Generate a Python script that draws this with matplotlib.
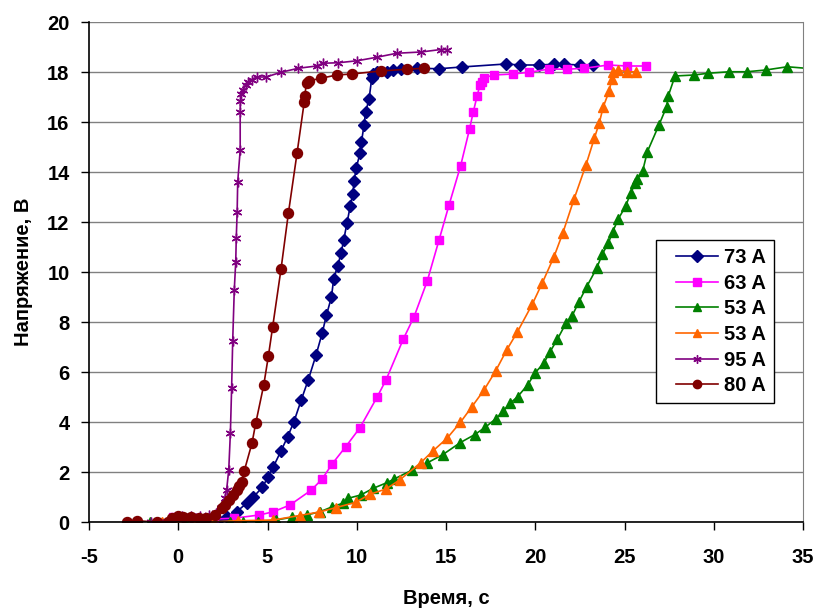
import matplotlib
matplotlib.use("Agg")
import matplotlib.pyplot as plt
from matplotlib.legend_handler import HandlerLine2D

plt.rcParams['font.family'] = ['Liberation Sans', 'DejaVu Sans']
plt.rcParams['font.weight'] = 'bold'
plt.rcParams['axes.unicode_minus'] = False

# ---- data (time, s ; voltage, V) ----
t73 = [1.0, 2.2, 2.71, 3.27, 3.83, 4.2, 4.71, 5.04, 5.33, 5.76, 6.13, 6.48, 6.89, 7.29, 7.72, 8.07, 8.3, 8.58,
       8.71, 8.93, 9.12, 9.27, 9.45, 9.64, 9.77, 9.86, 9.96, 10.2, 10.26, 10.41, 10.5, 10.69, 10.84, 10.93,
       11.12, 11.68, 12.05, 12.46, 13.36, 14.6, 15.88, 18.34, 19.15, 20.23, 21.07, 21.63, 22.5, 23.25]
u73 = [0.05, 0.1, 0.21, 0.41, 0.75, 0.99, 1.39, 1.81, 2.21, 2.85, 3.41, 4.01, 4.88, 5.7, 6.68, 7.57, 8.27, 8.99,
       9.73, 10.24, 10.75, 11.28, 11.95, 12.65, 13.11, 13.65, 14.15, 14.78, 15.19, 15.88, 16.41, 16.92, 17.75, 17.92,
       18.01, 17.99, 18.08, 18.11, 18.15, 18.13, 18.2, 18.32, 18.28, 18.28, 18.31, 18.31, 18.28, 18.28]

t63 = [-0.3, 1.0, 2.0, 3.1, 4.54, 5.33, 6.26, 7.46, 8.05, 8.63, 9.39, 10.18, 11.15, 11.64, 12.61, 13.21, 13.95,
       14.61, 15.17, 15.82, 16.32, 16.53, 16.75, 16.9, 17.0, 17.13, 17.69, 18.74, 19.67, 20.79, 21.76, 22.75,
       24.1, 25.12, 26.2]
u63 = [0.2, 0.15, 0.12, 0.15, 0.28, 0.41, 0.68, 1.28, 1.71, 2.33, 3.02, 3.77, 5.01, 5.68, 7.32, 8.21, 9.64,
       11.28, 12.68, 14.25, 15.72, 16.41, 17.06, 17.48, 17.61, 17.77, 17.88, 17.92, 17.99, 18.12, 18.11, 18.15,
       18.28, 18.24, 18.24]

t53g = [-1.58, 0.38, 1.41, 2.9, 3.61, 4.48, 5.48, 6.36, 7.2, 7.94, 8.6, 9.21, 9.53, 10.22, 10.93, 11.68, 12.1,
        13.08, 13.91, 14.83, 15.81, 16.62, 17.2, 17.79, 18.21, 18.59, 19.01, 19.57, 20.0, 20.49, 20.83, 21.24,
        21.72, 22.06, 22.45, 22.88, 23.44, 23.76, 24.09, 24.34, 24.65, 25.07, 25.35, 25.61, 25.72, 26.02, 26.28,
        26.93, 27.36, 27.45, 27.83, 28.89, 29.7, 30.87, 31.85, 32.91, 34.12, 36.0]
u53g = [0, 0, 0, 0.01, 0, 0.01, 0.08, 0.19, 0.28, 0.41, 0.6, 0.75, 0.95, 1.08, 1.35, 1.57, 1.72,
        2.07, 2.35, 2.7, 3.18, 3.5, 3.79, 4.13, 4.44, 4.75, 5.01, 5.48, 5.97, 6.37, 6.81, 7.31,
        7.95, 8.24, 8.81, 9.41, 10.15, 10.72, 11.15, 11.61, 12.12, 12.64, 13.17, 13.55, 13.71, 14.05, 14.81,
        15.88, 16.61, 17.04, 17.84, 17.88, 17.95, 18.01, 18.01, 18.08, 18.21, 18.1]

t53o = [-0.93, -0.09, 0.94, 1.96, 3.36, 5.33, 6.8, 7.9, 8.86, 9.95, 10.74, 11.64, 12.4, 13.58, 14.25, 15.06,
        15.81, 16.46, 17.13, 17.78, 18.4, 18.99, 19.84, 20.4, 21.05, 21.54, 22.17, 22.84, 23.31, 23.59, 23.81,
        24.15, 24.28, 24.37, 24.62, 25.12, 25.64]
u53o = [0, 0, 0.01, 0.01, 0.05, 0.08, 0.26, 0.4, 0.58, 0.79, 1.11, 1.32, 1.68, 2.37, 2.83, 3.35,
        3.99, 4.62, 5.28, 6.04, 6.88, 7.59, 8.72, 9.57, 10.61, 11.55, 12.91, 14.28, 15.35, 15.97, 16.61,
        17.25, 17.71, 18.01, 18.08, 18.01, 18.01]

t95 = [-1.5, -1.2, -0.3, 0.2, 0.7, 1.2, 1.7, 2.1, 2.4, 2.6, 2.71, 2.83, 2.92, 2.99, 3.05, 3.14, 3.22, 3.25,
       3.30, 3.33, 3.47, 3.47, 3.48, 3.53, 3.64, 3.78, 3.92, 4.11, 4.39, 4.92, 5.76, 6.73, 7.75, 8.09, 8.97,
       10.03, 11.12, 12.24, 13.6, 14.72, 15.04]
u95 = [0.0, 0.02, 0.15, 0.25, 0.25, 0.25, 0.3, 0.35, 0.55, 0.95, 1.28, 2.1, 3.55, 5.36, 7.24, 9.3, 10.4, 11.35,
       12.4, 13.6, 14.87, 16.4, 16.84, 17.1, 17.28, 17.48, 17.6, 17.7, 17.8, 17.8, 17.99, 18.15, 18.24, 18.35, 18.37,
       18.45, 18.59, 18.75, 18.8, 18.9, 18.9]

t80 = [-2.89, -2.33, -1.17, -0.56, -0.37, 0.0, 0.24, 0.7, 1.18, 1.55, 2.06, 2.43, 2.62, 2.86, 3.08, 3.27, 3.42,
       3.55, 3.70, 4.13, 4.34, 4.79, 5.05, 5.29, 5.76, 6.17, 6.66, 7.06, 7.08, 7.19, 7.34, 8.0, 8.88, 9.72,
       11.34, 12.8, 13.77]
u80 = [0.01, 0.05, 0.0, 0.01, 0.15, 0.24, 0.2, 0.19, 0.15, 0.15, 0.28, 0.55, 0.68, 0.88, 1.08, 1.28, 1.44,
       1.61, 2.05, 3.15, 3.95, 5.48, 6.64, 7.81, 10.13, 12.35, 14.78, 16.81, 17.05, 17.55, 17.65, 17.75, 17.88, 17.92,
       18.04, 18.11, 18.15]

labels = ['73 A', '63 A', '53 A', '53 A', '95 A', '80 A']
xticks = [-5, 0, 5, 10, 15, 20, 25, 30, 35]
yticks = [0, 2, 4, 6, 8, 10, 12, 14, 16, 18, 20]

fig = plt.figure(figsize=(8.16, 6.09), dpi=100)
ax = fig.add_axes([89/816, 1-522/609, 714/816, 500/609])

series = [
    (t73, u73, '#000080', 'D', 6.3),
    (t63, u63, '#FF00FF', 's', 6.3),
    (t53g, u53g, '#008000', '^', 7.8),
    (t53o, u53o, '#FF6600', '^', 7.8),
    (t95, u95, '#800080', (6, 2, 0), 7.0),
    (t80, u80, '#800000', 'o', 7.2),
]
for (t, u, c, m, ms), lab in zip(series, labels):
    ax.plot(t, u, color=c, lw=1.2, marker=m, ms=ms, mfc=c, mec=c, mew=1.0, label=lab)

ax.set_xlim(-5, 35)
ax.set_ylim(0, 20)
ax.set_xticks(xticks)
ax.set_yticks(yticks)
ax.yaxis.grid(True, color='#808080', lw=1.0)
ax.set_axisbelow(True)
ax.spines['top'].set_visible(False)
ax.spines['right'].set_color('#808080')
ax.spines['left'].set_color('black')
ax.spines['bottom'].set_color('black')
ax.spines['left'].set_linewidth(1.2)
ax.spines['bottom'].set_linewidth(1.2)
ax.tick_params(axis='both', direction='out', length=6, width=1.0, labelsize=14.5, colors='black')
for lbl in ax.get_xticklabels() + ax.get_yticklabels():
    lbl.set_fontweight('bold')
ax.tick_params(axis='x', pad=13)
ax.tick_params(axis='y', pad=8)

ax.set_xlabel('Время, с', fontsize=14.5, fontweight='bold')
ax.set_ylabel('Напряжение, В', fontsize=14.5, fontweight='bold')
ax.xaxis.set_label_coords(0.5, -0.134)
ax.yaxis.set_label_coords(-0.078, 0.5)

leg = ax.legend(loc='upper left', bbox_to_anchor=(0.794, 0.564), borderaxespad=0,
                fancybox=False, edgecolor='black', framealpha=1,
                handlelength=2.7, labelspacing=0.33, borderpad=0.4, handletextpad=0.3,
                prop={'weight': 'bold', 'size': 14.5},
                handler_map={matplotlib.lines.Line2D: HandlerLine2D(xpad=0.62)})
leg.get_frame().set_linewidth(1.0)
for h in leg.legend_handles:
    h.set_markersize(6)

fig.savefig('out.png', dpi=100)
